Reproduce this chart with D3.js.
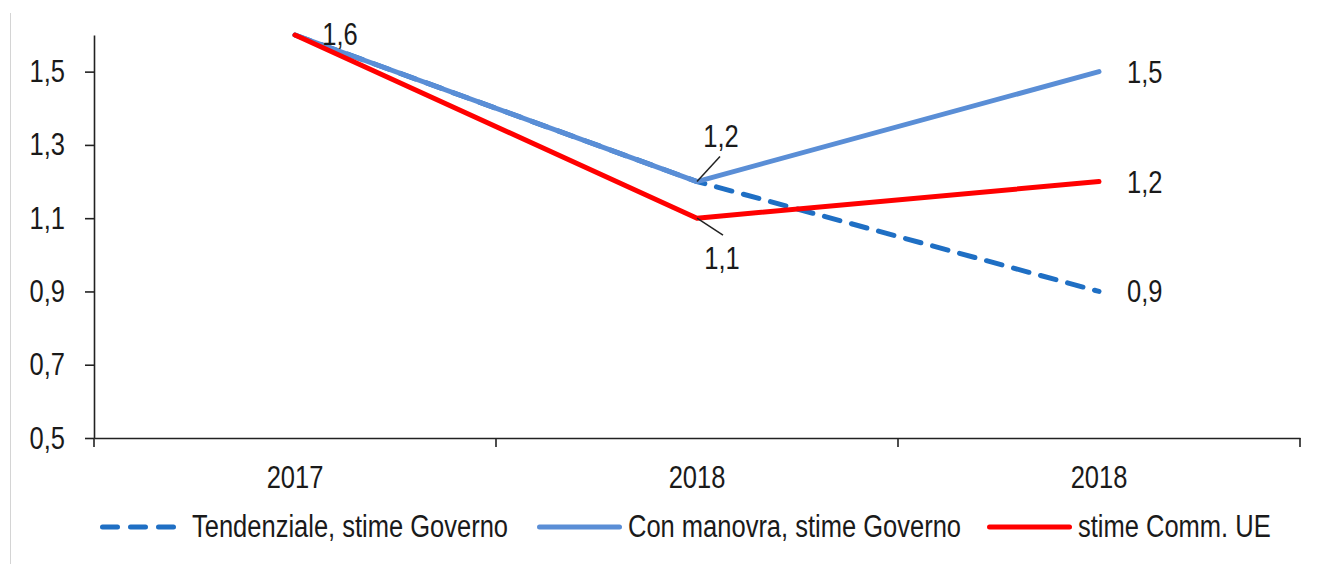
<!DOCTYPE html>
<html><head><meta charset="utf-8">
<script src="https://cdn.jsdelivr.net/npm/d3@7"></script>
<style>
html,body{margin:0;padding:0;background:#fff;}
svg{display:block;font-family:"Liberation Sans",Arial,sans-serif;}
</style></head>
<body>
<svg id="chart" width="1321" height="564"></svg>
<script>
const categories = ["2017", "2018", "2018"];
const yTicks = [0.5, 0.7, 0.9, 1.1, 1.3, 1.5];
const tendenziale = [1.6, 1.2, 0.9];
const conManovra = [1.6, 1.2, 1.5];
const commUE = [1.6, 1.1, 1.2];
const seriesNames = ["Tendenziale, stime Governo", "Con manovra, stime Governo", "stime Comm. UE"];

const svg = d3.select("#chart");
const fmt = d => d.toFixed(1).replace(".", ",");
const SY = 1.25, FS = 25.5;

const x = d3.scaleBand().domain(d3.range(categories.length)).range([94, 1300]).padding(0);
const y = d3.scaleLinear().domain([0.5, 1.6]).range([438, 35]);
const cx = i => x(i) + x.bandwidth() / 2;

// faint border line
svg.append("line").attr("x1", 10.5).attr("x2", 10.5).attr("y1", 13).attr("y2", 564)
  .attr("stroke", "#d4d4d4").attr("stroke-width", 1);

function label(g, tx, ty, txt, anchor) {
  g.append("text").attr("transform", `translate(${tx},${ty}) scale(1,${SY})`)
    .attr("text-anchor", anchor || "middle").attr("font-size", FS).attr("fill", "#1a1a1a").text(txt);
}

// Y axis
const yAxis = svg.append("g").attr("transform", "translate(94,0)")
  .call(d3.axisLeft(y).tickValues(yTicks).tickSize(9).tickSizeOuter(0).tickPadding(20).tickFormat(fmt));
yAxis.select(".domain").attr("stroke", "#222").attr("stroke-width", 1.6);
yAxis.selectAll(".tick line").attr("stroke", "#222").attr("stroke-width", 1.6);
yAxis.selectAll(".tick text").attr("x", null).attr("dy", null).attr("y", null)
  .attr("font-size", FS).attr("fill", "#1a1a1a").attr("font-family", null)
  .attr("transform", `translate(-29,10) scale(1,${SY})`);

// X axis
const xAxis = svg.append("g").attr("transform", "translate(0,438)")
  .call(d3.axisBottom(x).tickSize(0).tickSizeOuter(0).tickFormat(i => categories[i]));
xAxis.select(".domain").attr("stroke", "#222").attr("stroke-width", 1.6);
xAxis.selectAll(".tick text").attr("y", null).attr("dy", null)
  .attr("font-size", FS).attr("fill", "#1a1a1a").attr("font-family", null)
  .attr("transform", `translate(0,50) scale(1,${SY})`);
const bounds = d3.range(categories.length).map(i => x(i)).concat([x.range()[1]]);
xAxis.selectAll(".btick").data(bounds).join("line").attr("class", "btick")
  .attr("x1", d => d).attr("x2", d => d).attr("y1", 0).attr("y2", 9)
  .attr("stroke", "#222").attr("stroke-width", 1.6);

// Lines
const line = d3.line().x((d, i) => cx(i)).y(d => y(d));
svg.append("path").datum(tendenziale).attr("d", line).attr("fill", "none")
  .attr("stroke", "#1f6fc4").attr("stroke-width", 5).attr("stroke-linecap", "round")
  .attr("stroke-dasharray", "16,12");
svg.append("path").datum(conManovra).attr("d", line).attr("fill", "none")
  .attr("stroke", "#5a8ed6").attr("stroke-width", 5).attr("stroke-linecap", "round").attr("stroke-linejoin", "round");
svg.append("path").datum(commUE).attr("d", line).attr("fill", "none")
  .attr("stroke", "#ff0000").attr("stroke-width", 5).attr("stroke-linecap", "round").attr("stroke-linejoin", "round");

// Data labels
const lab = svg.append("g");
label(lab, cx(0) + 45, y(conManovra[0]) + 10, fmt(conManovra[0]));
label(lab, cx(1) + 24, y(conManovra[1]) - 35, fmt(conManovra[1]));
label(lab, cx(1) + 25, y(commUE[1]) + 51, fmt(commUE[1]));
label(lab, cx(2) + 28, y(conManovra[2]) + 11, fmt(conManovra[2]), "start");
label(lab, cx(2) + 28, y(commUE[2]) + 11, fmt(commUE[2]), "start");
label(lab, cx(2) + 28, y(tendenziale[2]) + 11, fmt(tendenziale[2]), "start");
// leader lines
lab.append("line").attr("x1", cx(1)).attr("y1", y(conManovra[1])).attr("x2", cx(1) + 23).attr("y2", y(conManovra[1]) - 25)
  .attr("stroke", "#222").attr("stroke-width", 1.5);
lab.append("line").attr("x1", cx(1)).attr("y1", y(commUE[1])).attr("x2", cx(1) + 26).attr("y2", y(commUE[1]) + 17)
  .attr("stroke", "#222").attr("stroke-width", 1.5);

// Legend
const leg = svg.append("g");
const ly = 527;
leg.append("line").attr("x1", 102.5).attr("x2", 175).attr("y1", ly).attr("y2", ly)
  .attr("stroke", "#1f6fc4").attr("stroke-width", 5).attr("stroke-linecap", "round").attr("stroke-dasharray", "15,13");
leg.append("line").attr("x1", 539.5).attr("x2", 619.5).attr("y1", ly).attr("y2", ly)
  .attr("stroke", "#5a8ed6").attr("stroke-width", 5).attr("stroke-linecap", "round");
leg.append("line").attr("x1", 989.5).attr("x2", 1069.5).attr("y1", ly).attr("y2", ly)
  .attr("stroke", "#ff0000").attr("stroke-width", 5).attr("stroke-linecap", "round");
label(leg, 192, 537, seriesNames[0], "start");
label(leg, 628, 537, seriesNames[1], "start");
label(leg, 1078, 537, seriesNames[2], "start");
</script>
</body></html>
